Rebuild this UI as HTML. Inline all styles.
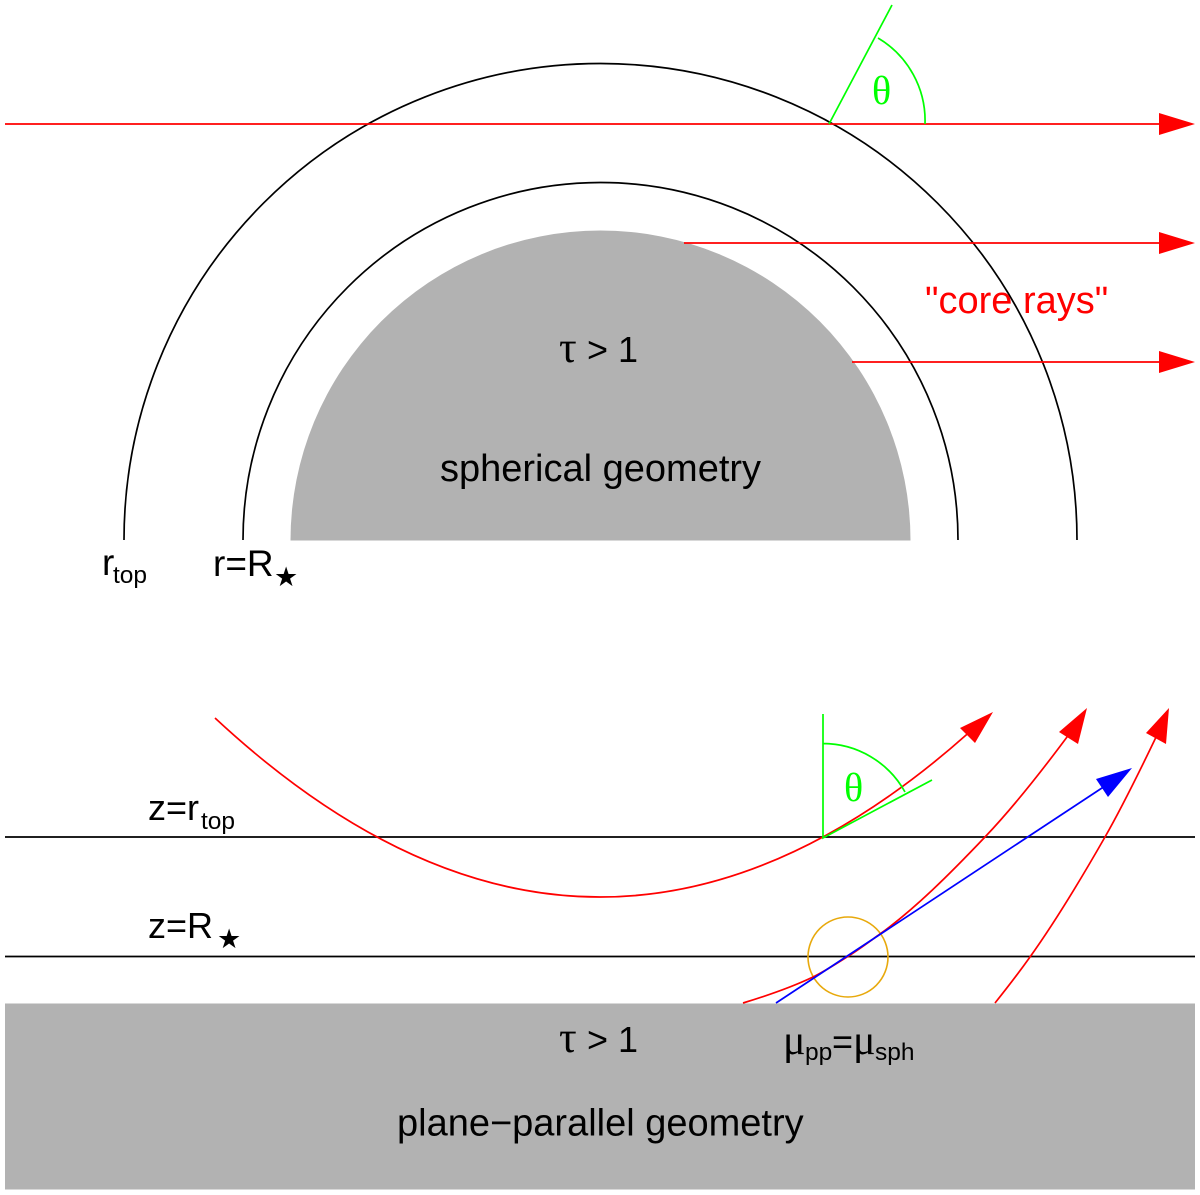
<!DOCTYPE html>
<html><head><meta charset="utf-8"><style>
html,body{margin:0;padding:0;background:#fff}
svg{display:block}
text{font-family:"Liberation Sans",sans-serif;font-size:38px;fill:#000}
.sy{font-family:"Liberation Serif","DejaVu Serif",serif}
.th{font-size:40px}
.ta{font-size:44px}
.mu{font-size:42px}
.g1{font-size:36px}
.m{font-size:37px}
.sub{font-size:24.5px}
.st{font-family:"DejaVu Sans",sans-serif;font-size:27px}
</style></head><body>
<svg width="1200" height="1195" viewBox="0 0 1200 1195" xmlns="http://www.w3.org/2000/svg">
<rect width="1200" height="1195" fill="#fff"/>
<path d="M290.5 540.5A310 310 0 0 1 910.5 540.5Z" fill="#b2b2b2"/>
<path d="M124 540A476.5 476.5 0 0 1 1077 540M243 540A357.5 357.5 0 0 1 958 540" fill="none" stroke="#000" stroke-width="1.7"/>
<g stroke="#f00" stroke-width="1.7" fill="none">
<path d="M5 124H1165M684 243H1165M852 362H1165"/>
</g>
<g fill="#f00">
<path d="M1159 113L1195 124L1159 135ZM1159 232L1195 243L1159 254ZM1159 351L1195 362L1159 373Z"/>
</g>
<g stroke="#0f0" stroke-width="1.7" fill="none">
<path d="M829 124L892 5M925 124A96 96 0 0 0 878 38"/>
</g>
<text class="sy th" x="872" y="104" style="fill:#0f0">θ</text>
<text x="925" y="313" style="fill:#f00">"core rays"</text>
<text class="sy ta" x="559" y="362">τ</text><text class="g1" x="587" y="362">&gt; 1</text>
<text x="440" y="481">spherical geometry</text>
<text class="m" x="102" y="575">r</text><text class="sub" x="113" y="583">top</text>
<text class="m" x="213" y="576">r=R</text><text class="st" x="274" y="586">★</text>

<rect x="5" y="1003.5" width="1190" height="186" fill="#b2b2b2"/>
<path d="M5 837H1195M5 956.5H1195" stroke="#000" stroke-width="1.7" fill="none"/>
<circle cx="848" cy="957" r="40" fill="none" stroke="#e8a90c" stroke-width="1.6"/>
<g stroke="#f00" stroke-width="1.7" fill="none">
<path d="M215 718Q591.5 1068.2 968 733.4"/>
<path d="M743 1003C766 996 790 988 813 977C824.3 971.6 835.7 964 847 957C858 950.2 869 941.9 880 934C915 908.8 950 873.8 985 837C1013.3 807.3 1041.7 771.2 1070 733"/>
<path d="M995 1003C1006.7 988.4 1018.3 973.4 1030 957C1055 922 1080 880.8 1105 837C1122.7 806 1140.3 770 1158 733"/>
</g>
<path d="M776 1003L1105 786" stroke="#00f" stroke-width="1.7" fill="none"/>
<g fill="#f00">
<path d="M993 712L960 728L975 743Z"/>
<path d="M1087 708L1059 732L1078 744Z"/>
<path d="M1169 708L1146 733L1166 744Z"/>
</g>
<path d="M1132 768L1096 779L1108 797Z" fill="#00f"/>
<g stroke="#0f0" stroke-width="1.7" fill="none">
<path d="M823 714V838L932 780M823 743.5A94 94 0 0 1 905 792"/>
</g>
<text class="sy th" x="844" y="801" style="fill:#0f0">θ</text>
<text class="g1" x="148" y="820">z=r</text><text class="sub" x="201" y="829">top</text>
<text class="g1" x="148" y="938">z=R</text><text class="st" x="217" y="948">★</text>
<text class="sy ta" x="559" y="1052">τ</text><text class="g1" x="587" y="1052">&gt; 1</text>
<text class="sy mu" x="783" y="1054">μ</text><text class="sub" x="805" y="1060">pp</text><text class="g1" x="832" y="1054">=</text><text class="sy mu" x="853" y="1054">μ</text><text class="sub" x="875" y="1060">sph</text>
<text x="397" y="1135.5">plane−parallel geometry</text>
</svg>
</body></html>
